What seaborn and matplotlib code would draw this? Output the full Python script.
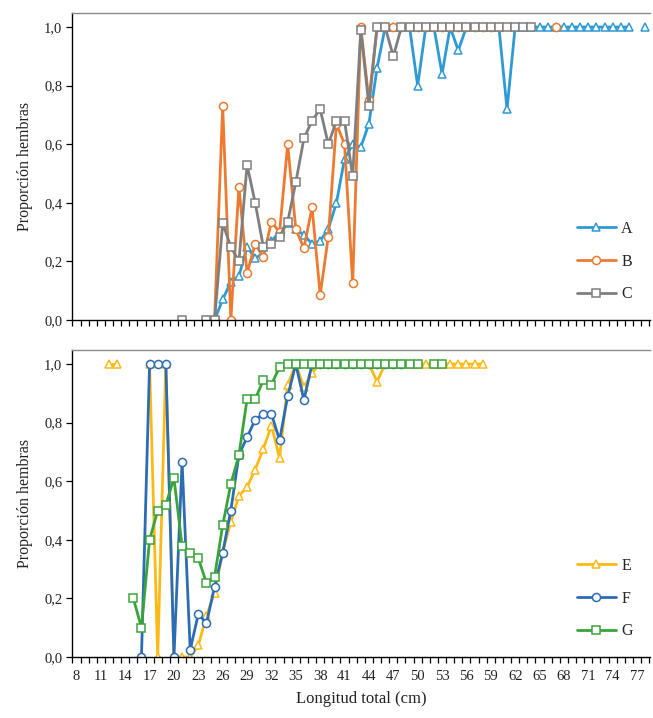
import numpy as np
import pandas as pd
import matplotlib
matplotlib.use("Agg")
import matplotlib.pyplot as plt
import seaborn as sns
from matplotlib.lines import Line2D
from matplotlib.ticker import FixedLocator, FuncFormatter

# ---------------- data ----------------
len_A = list(range(25, 77)) + [78]
prop_A = [0.0, 0.07, 0.13, 0.15, 0.25, 0.21, 0.23, 0.27, 0.30, 0.33, 0.31, 0.29,
          0.26, 0.27, 0.31, 0.40, 0.55, 0.60, 0.59, 0.67, 0.86,
          1.0, 1.0, 1.0, 1.0, 0.80, 1.0, 1.0, 0.84, 1.0, 0.92, 1.0, 1.0, 1.0,
          1.0, 1.0, 0.72, 1.0, 1.0, 1.0, 1.0, 1.0, 1.0, 1.0, 1.0, 1.0, 1.0,
          1.0, 1.0, 1.0, 1.0, 1.0, 1.0]

len_B = list(range(24, 61)) + [67]
prop_B = [0.0, 0.0, 0.73, 0.0, 0.455, 0.16, 0.26, 0.215, 0.335, 0.30, 0.60, 0.31,
          0.245, 0.385, 0.085, 0.285, 0.67, 0.60, 0.125, 1.0, 0.75, 1.0,
          1.0, 1.0, 1.0, 1.0, 1.0, 1.0, 1.0, 1.0, 1.0, 1.0, 1.0, 1.0, 1.0, 1.0,
          1.0, 1.0]

len_C = [21] + list(range(24, 65))
prop_C = [0.0, 0.0, 0.0, 0.33, 0.25, 0.20, 0.53, 0.40, 0.25, 0.26, 0.285, 0.335,
          0.47, 0.62, 0.68, 0.72, 0.60, 0.68, 0.68, 0.49, 0.99, 0.73, 1.0, 1.0,
          0.90, 1.0, 1.0, 1.0, 1.0, 1.0, 1.0, 1.0, 1.0, 1.0, 1.0, 1.0, 1.0, 1.0,
          1.0, 1.0, 1.0, 1.0]

len_E = [12, 13] + list(range(17, 59))
prop_E = [1.0, 1.0,
          1.0, 0.0, 1.0,                                   # 17-19
          0.0, 0.0, 0.0, 0.04, 0.14, 0.22, 0.36, 0.46,     # 20-27
          0.55, 0.58, 0.64, 0.71, 0.79, 0.68, 0.93, 1.0,   # 28-35
          0.92, 0.97, 1.0, 1.0, 1.0, 1.0, 1.0, 1.0, 1.0,   # 36-44
          0.94,                                            # 45
          1.0, 1.0, 1.0, 1.0, 1.0, 1.0, 1.0, 1.0, 1.0,     # 46-54
          1.0, 1.0, 1.0, 1.0]                              # 55-58

len_F = list(range(16, 49))
prop_F = [0.0, 1.0, 1.0, 1.0, 0.0, 0.667, 0.024, 0.147, 0.115, 0.24, 0.355, 0.50,
          0.69, 0.75, 0.81, 0.83, 0.83, 0.74, 0.89, 1.0, 0.877, 1.0, 1.0, 1.0,
          1.0, 1.0, 1.0, 1.0, 1.0, 1.0, 1.0, 1.0, 1.0]

len_G = list(range(15, 51)) + [52, 53]
prop_G = [0.20, 0.10, 0.40, 0.50, 0.52, 0.61, 0.38, 0.355, 0.337, 0.252, 0.274,
          0.45, 0.59, 0.69, 0.88, 0.88, 0.945, 0.93, 0.99, 1.0, 1.0, 1.0, 1.0,
          1.0, 1.0, 1.0, 1.0, 1.0, 1.0, 1.0, 1.0, 1.0, 1.0, 1.0, 1.0, 1.0,
          1.0, 1.0]

x_tick_labels = list(range(8, 78, 3))
y_ticks = [0.0, 0.2, 0.4, 0.6, 0.8, 1.0]

# ---------------- styling ----------------
sns.set_theme(style="white")
plt.rcParams["font.family"] = ["Liberation Serif", "DejaVu Serif"]

colors = {"A": "#2E9AD5", "B": "#EC7A30", "C": "#7F7F7F",
          "E": "#FDBA16", "F": "#2C6CB4", "G": "#3AA43A"}
markers = {"A": "^", "B": "o", "C": "s", "E": "^", "F": "o", "G": "s"}


def frame(lengths, props):
    df = pd.DataFrame({"len": lengths, "prop": props})
    df["seg"] = (df["len"].diff().fillna(1) != 1).cumsum()
    return df


def draw(ax, name, lengths, props):
    df = frame(lengths, props)
    c = colors[name]
    sns.lineplot(data=df, x="len", y="prop", units="seg", estimator=None,
                 ax=ax, color=c, linewidth=2.0, marker=markers[name],
                 markersize=5.8, markerfacecolor="white",
                 markeredgecolor=c, markeredgewidth=1.1, legend=False)


def handle(name):
    c = colors[name]
    return Line2D([], [], color=c, linewidth=2.0, marker=markers[name],
                  markersize=5.8, markerfacecolor="white", markeredgecolor=c,
                  markeredgewidth=1.1)


fig = plt.figure(figsize=(6.53, 7.18), dpi=100)
ax1 = fig.add_axes([72 / 653, 1 - 320 / 718, 578 / 653, 307 / 718])
ax2 = fig.add_axes([72 / 653, 1 - 657 / 718, 578 / 653, 307 / 718])

draw(ax1, "A", len_A, prop_A)
draw(ax1, "B", len_B, prop_B)
draw(ax1, "C", len_C, prop_C)
draw(ax2, "E", len_E, prop_E)
draw(ax2, "F", len_F, prop_F)
draw(ax2, "G", len_G, prop_G)

for ax, names in ((ax1, "ABC"), (ax2, "EFG")):
    ax.set_xlim(7.45, 78.6)
    ax.set_ylim(0, 1.048)
    ax.set_facecolor("white")
    ax.yaxis.set_major_locator(FixedLocator(y_ticks))
    ax.yaxis.set_major_formatter(FuncFormatter(lambda v, p: f"{v:.1f}".replace(".", ",")))
    ax.xaxis.set_major_locator(FixedLocator(x_tick_labels))
    ax.xaxis.set_minor_locator(FixedLocator(np.arange(7.5, 79, 1.0)))
    ax.tick_params(axis="x", which="major", bottom=True, length=0,
                   labelsize=10.5, pad=9, colors="#222222")
    ax.tick_params(axis="x", which="minor", bottom=True, length=4, width=0.9,
                   direction="out", color="black")
    ax.tick_params(axis="y", which="major", left=True, length=4, width=0.9,
                   direction="out", color="black", labelsize=10.5,
                   pad=3, labelcolor="#222222")
    for s in ("left", "bottom"):
        ax.spines[s].set_color("black")
        ax.spines[s].set_linewidth(1.0)
    ax.spines["top"].set_color("#8a8a8a")
    ax.spines["top"].set_linewidth(1.0)
    ax.spines["right"].set_visible(False)
    ax.set_ylabel("Proporción hembras", fontsize=11.5, labelpad=8, color="#222222")
    ax.set_xlabel("")
    ax.legend(handles=[handle(n) for n in names], labels=list(names),
              loc="center right", bbox_to_anchor=(0.995, 0.19), frameon=False,
              fontsize=11.5, handlelength=2.5, labelspacing=1.05,
              handletextpad=0.3)

ax1.tick_params(axis="x", which="major", labelbottom=False)
ax2.set_xlabel("Longitud total (cm)", fontsize=12, labelpad=6, color="#222222")

fig.savefig("out.png", dpi=100, facecolor="white")
